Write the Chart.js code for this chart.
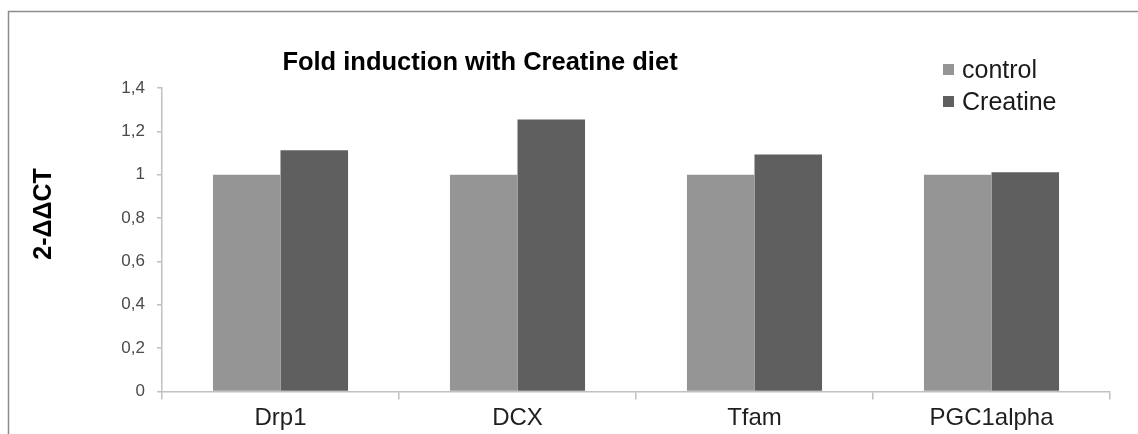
<!DOCTYPE html>
<html>
<head>
<meta charset="utf-8">
<title>Fold induction with Creatine diet</title>
<script src="https://cdn.jsdelivr.net/npm/chart.js@4.4.1/dist/chart.umd.min.js"></script>
<style>
  html, body { margin: 0; padding: 0; background: #ffffff; }
  #wrap { width: 1138px; height: 434px; position: relative; }
</style>
</head>
<body>
<div id="wrap"><canvas id="chart" width="1138" height="434"></canvas></div>
<script>
// Genes measured
const categories = ['Drp1', 'DCX', 'Tfam', 'PGC1alpha'];
// Relative expression (2-ΔΔCT)
const controlValues = [1.0, 1.0, 1.0, 1.0];
const creatineValues = [1.113, 1.255, 1.093, 1.011];
// Y axis tick values and their labels (decimal comma)
const yTickValues = [0, 0.2, 0.4, 0.6, 0.8, 1.0, 1.2, 1.4];
const yTickLabels = ['0', '0,2', '0,4', '0,6', '0,8', '1', '1,2', '1,4'];
const seriesNames = ['control', 'Creatine'];
const seriesColors = ['#959595', '#5f5f5f'];

const FONT = '"Liberation Sans", Arial, sans-serif';
const AXIS_COLOR = '#c0c0c0';

// Frame, title, legend and y-axis title drawn onto the canvas
const decorations = {
  id: 'decorations',
  beforeDraw(chart) {
    const ctx = chart.ctx;
    ctx.save();
    ctx.fillStyle = '#ffffff';
    ctx.fillRect(0, 0, chart.width, chart.height);
    ctx.strokeStyle = '#8c8c8c';
    ctx.lineWidth = 1.5;
    ctx.strokeRect(8.5, 11.5, chart.width + 20, chart.height + 20);
    ctx.restore();
  },
  afterDraw(chart) {
    const ctx = chart.ctx;
    ctx.save();
    // Title
    ctx.fillStyle = '#000000';
    ctx.font = 'bold 25.5px ' + FONT;
    ctx.textAlign = 'center';
    ctx.textBaseline = 'alphabetic';
    ctx.fillText('Fold induction with Creatine diet', 480, 70);

    // Y axis title
    ctx.save();
    ctx.translate(51, 214);
    ctx.rotate(-Math.PI / 2);
    ctx.font = 'bold 25px ' + FONT;
    ctx.textAlign = 'center';
    ctx.textBaseline = 'alphabetic';
    ctx.fillText('2-ΔΔCT', 0, 0);
    ctx.restore();

    // Legend
    ctx.font = '25px ' + FONT;
    ctx.textAlign = 'left';
    ctx.textBaseline = 'alphabetic';
    const rows = [70, 102];
    seriesNames.forEach((name, i) => {
      ctx.fillStyle = seriesColors[i];
      ctx.fillRect(943, rows[i] - 6, 11, 11);
      ctx.fillStyle = '#1a1a1a';
      ctx.fillText(name, 962, rows[i] + 8);
    });
    ctx.restore();
  }
};

new Chart(document.getElementById('chart'), {
  type: 'bar',
  data: {
    labels: categories,
    datasets: [
      { label: seriesNames[0], data: controlValues, backgroundColor: seriesColors[0], borderWidth: 0 },
      { label: seriesNames[1], data: creatineValues, backgroundColor: seriesColors[1], borderWidth: 0 }
    ]
  },
  options: {
    responsive: false,
    animation: false,
    devicePixelRatio: 1,
    datasets: { bar: { categoryPercentage: 0.57, barPercentage: 1.0 } },
    layout: { padding: { left: 0, top: 88, right: 28, bottom: 0 } },
    plugins: {
      legend: { display: false },
      title: { display: false },
      tooltip: { enabled: false }
    },
    scales: {
      x: {
        grid: {
          display: true,
          offset: true,
          drawOnChartArea: false,
          drawTicks: true,
          tickLength: 8,
          color: AXIS_COLOR,
          lineWidth: 1.5
        },
        border: { display: true, color: AXIS_COLOR, width: 1.5 },
        ticks: {
          color: '#1f1f1f',
          font: { family: FONT, size: 24 },
          padding: 4,
          maxRotation: 0
        },
        afterFit(scale) { scale.height = 42.5; }
      },
      y: {
        min: 0,
        max: 1.4,
        grid: {
          display: true,
          drawOnChartArea: false,
          drawTicks: true,
          tickLength: 5,
          color: AXIS_COLOR,
          lineWidth: 1.5
        },
        border: { display: true, color: AXIS_COLOR, width: 1.5 },
        afterBuildTicks(scale) {
          scale.ticks = yTickValues.map(v => ({ value: v }));
        },
        ticks: {
          color: '#4a4a4a',
          font: { family: FONT, size: 17 },
          padding: 12,
          callback(value) {
            const i = yTickValues.findIndex(v => Math.abs(v - value) < 1e-9);
            return i >= 0 ? yTickLabels[i] : '';
          }
        },
        afterFit(scale) { scale.width = 162; }
      }
    }
  },
  plugins: [decorations]
});
</script>
</body>
</html>
